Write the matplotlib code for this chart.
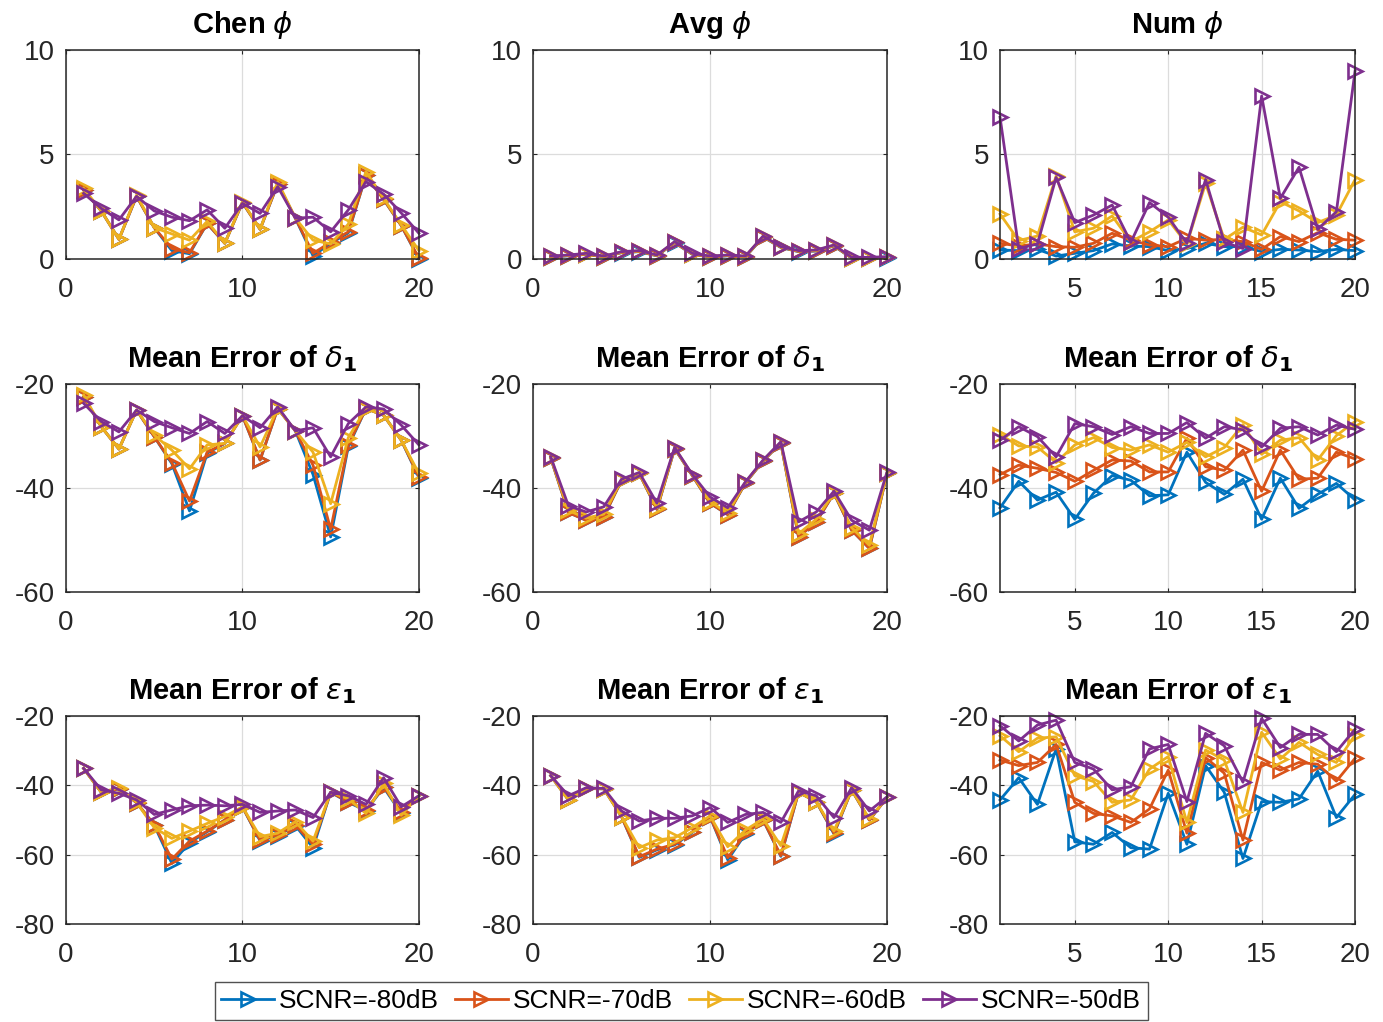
import matplotlib
matplotlib.use("Agg")
import matplotlib.pyplot as plt

plt.rcParams['font.family'] = ['Liberation Sans', 'DejaVu Sans']
plt.rcParams['mathtext.fontset'] = 'dejavusans'
plt.rcParams['axes.unicode_minus'] = False

x20 = list(range(1, 21))
labels = ['SCNR=-80dB', 'SCNR=-70dB', 'SCNR=-60dB', 'SCNR=-50dB']
colors = ['#0072BD', '#D95319', '#EDB120', '#7E2F8E']

# row 1: phi
chen_phi_80 = [3.3, 2.3, 0.94, 3.0, 1.5, 0.4, 0.25, 1.7, 0.75, 2.7, 1.42, 3.6, 1.95, 0.15, 0.75, 1.25, 4.0, 2.85, 1.6, 0.0]
chen_phi_70 = [3.3, 2.3, 0.94, 3.0, 1.5, 0.5, 0.3, 1.7, 0.75, 2.7, 1.42, 3.6, 1.95, 0.27, 0.8, 1.3, 4.0, 2.85, 1.6, 0.03]
chen_phi_60 = [3.38, 2.3, 0.94, 3.06, 1.5, 1.2, 0.9, 1.8, 0.75, 2.74, 1.42, 3.7, 1.95, 0.9, 0.72, 1.67, 4.18, 2.9, 1.63, 0.4]
chen_phi_50 = [3.14, 2.42, 1.87, 3.0, 2.3, 2.0, 1.83, 2.35, 1.47, 2.66, 2.18, 3.46, 1.95, 2.0, 1.3, 2.35, 3.7, 3.1, 2.2, 1.23]

avg_phi_80 = [0.1, 0.15, 0.22, 0.1, 0.3, 0.35, 0.15, 0.78, 0.22, 0.1, 0.15, 0.1, 1.05, 0.55, 0.35, 0.38, 0.62, 0.04, 0.04, 0.07]
avg_phi_70 = [0.11, 0.16, 0.23, 0.11, 0.31, 0.36, 0.16, 0.79, 0.23, 0.11, 0.16, 0.11, 1.06, 0.56, 0.36, 0.39, 0.63, 0.05, 0.05, 0.08]
avg_phi_60 = [0.12, 0.17, 0.25, 0.12, 0.33, 0.38, 0.17, 0.81, 0.25, 0.12, 0.17, 0.12, 1.08, 0.57, 0.38, 0.41, 0.65, 0.06, 0.06, 0.09]
avg_phi_50 = [0.14, 0.19, 0.27, 0.14, 0.35, 0.4, 0.19, 0.83, 0.27, 0.14, 0.19, 0.14, 1.1, 0.59, 0.4, 0.43, 0.67, 0.08, 0.08, 0.11]

num_phi_80 = [0.43, 0.4, 0.46, 0.14, 0.27, 0.4, 0.72, 0.62, 0.59, 0.4, 0.5, 0.75, 0.59, 0.59, 0.35, 0.46, 0.43, 0.35, 0.46, 0.4]
num_phi_70 = [0.75, 0.62, 0.72, 0.59, 0.56, 0.75, 1.23, 0.9, 0.67, 0.59, 0.99, 0.9, 0.94, 0.83, 0.46, 1.07, 0.83, 1.26, 0.94, 0.9]
num_phi_60 = [2.15, 0.88, 1.1, 3.97, 1.3, 1.47, 2.06, 0.83, 1.3, 1.87, 0.72, 3.62, 0.94, 1.52, 1.15, 2.74, 2.3, 1.74, 2.1, 3.8]
num_phi_50 = [6.78, 0.5, 0.72, 3.9, 1.74, 2.1, 2.58, 0.8, 2.7, 2.0, 0.75, 3.8, 0.8, 0.5, 7.8, 2.9, 4.39, 1.42, 2.26, 9.0]

# row 2: delta_1
chen_d1_80 = [-22.5, -28.2, -32.5, -25.0, -30.1, -35.3, -44.4, -33.3, -31.4, -26.1, -34.6, -24.7, -29.0, -37.4, -49.4, -32.0, -24.7, -26.0, -30.8, -38.0]
chen_d1_70 = [-22.5, -28.2, -32.5, -25.0, -30.1, -35.1, -42.5, -33.1, -31.4, -26.1, -34.6, -24.7, -29.0, -35.6, -47.9, -31.7, -24.7, -26.0, -30.8, -37.8]
chen_d1_60 = [-22.1, -28.2, -32.5, -25.0, -29.8, -32.7, -36.3, -31.7, -31.4, -26.1, -32.1, -24.7, -29.0, -33.1, -43.0, -30.3, -24.7, -26.0, -30.8, -37.2]
chen_d1_50 = [-23.7, -27.2, -29.2, -25.0, -27.2, -28.4, -29.5, -27.2, -29.5, -26.1, -28.4, -24.4, -29.0, -28.4, -34.0, -27.6, -24.4, -24.8, -27.9, -31.7]

avg_d1_80 = [-34.2, -44.7, -46.2, -45.5, -38.5, -37.2, -44.1, -32.4, -37.6, -42.9, -45.1, -39.0, -34.8, -31.3, -49.4, -46.5, -41.0, -48.1, -51.6, -37.2]
avg_d1_70 = [-34.2, -44.7, -46.2, -45.5, -38.5, -37.2, -44.1, -32.4, -37.6, -42.9, -45.1, -39.0, -34.8, -31.3, -49.4, -46.5, -41.0, -48.1, -51.6, -37.2]
avg_d1_60 = [-34.1, -44.3, -45.8, -45.0, -38.4, -37.1, -43.8, -32.3, -37.5, -42.6, -44.8, -38.9, -34.7, -31.2, -48.8, -46.0, -40.9, -47.6, -51.0, -37.1]
avg_d1_50 = [-34.0, -43.4, -44.6, -43.6, -38.3, -37.0, -42.9, -32.2, -37.4, -41.7, -43.8, -38.8, -34.6, -31.1, -46.5, -44.6, -40.6, -46.2, -48.1, -36.9]

num_d1_80 = [-43.8, -38.7, -42.3, -40.8, -46.0, -41.0, -37.6, -38.5, -41.5, -41.3, -33.1, -38.9, -41.2, -38.3, -46.0, -38.1, -43.9, -41.2, -39.1, -42.3]
num_d1_70 = [-37.4, -35.6, -36.2, -37.0, -38.7, -36.6, -34.6, -34.8, -36.9, -36.9, -30.4, -35.9, -36.6, -32.7, -40.6, -32.7, -38.3, -38.1, -33.1, -34.4]
num_d1_60 = [-29.7, -31.9, -32.1, -35.1, -31.7, -30.3, -32.2, -32.7, -31.7, -33.1, -31.2, -34.0, -32.2, -27.8, -33.5, -30.8, -30.3, -34.6, -29.9, -27.2]
num_d1_50 = [-30.8, -28.2, -30.1, -34.0, -27.6, -28.2, -29.7, -28.2, -29.5, -29.5, -27.4, -30.4, -28.2, -28.8, -32.1, -28.5, -28.2, -29.8, -27.9, -28.7]

# row 3: epsilon_1
chen_e1_80 = [-35.1, -42.0, -41.0, -45.0, -51.5, -62.5, -56.5, -53.4, -50.0, -46.2, -56.0, -54.5, -51.6, -58.0, -42.0, -44.9, -47.3, -40.6, -48.1, -43.0]
chen_e1_70 = [-35.1, -42.0, -41.0, -45.0, -51.3, -61.3, -56.1, -53.2, -50.0, -46.2, -55.8, -54.3, -51.4, -57.0, -42.0, -44.7, -47.1, -40.4, -47.6, -43.0]
chen_e1_60 = [-35.1, -42.0, -40.7, -44.9, -52.2, -55.3, -53.2, -51.0, -49.0, -46.2, -54.8, -53.8, -50.5, -56.1, -42.0, -43.9, -48.1, -39.4, -48.6, -43.0]
chen_e1_50 = [-35.1, -41.3, -42.3, -44.2, -48.4, -47.1, -45.9, -45.7, -45.9, -45.5, -47.8, -47.4, -47.1, -49.3, -42.0, -43.0, -45.5, -37.8, -46.2, -43.0]

avg_e1_80 = [-37.2, -44.2, -40.9, -41.0, -49.0, -60.8, -58.6, -57.2, -53.6, -49.0, -61.5, -54.0, -50.0, -60.5, -42.0, -44.7, -54.0, -41.3, -50.0, -43.5]
avg_e1_70 = [-37.2, -44.2, -40.9, -41.0, -49.0, -60.6, -58.4, -57.0, -53.4, -49.0, -60.9, -53.8, -50.0, -60.3, -42.0, -44.7, -53.8, -41.3, -50.0, -43.5]
avg_e1_60 = [-37.2, -44.2, -40.9, -41.0, -49.0, -58.0, -55.8, -55.1, -52.2, -48.8, -57.7, -52.9, -49.7, -57.4, -42.0, -44.7, -53.2, -41.3, -49.7, -43.5]
avg_e1_50 = [-37.2, -43.0, -40.7, -40.9, -47.4, -50.3, -49.5, -49.5, -48.8, -46.4, -50.7, -48.4, -47.8, -50.7, -41.6, -43.0, -49.3, -40.7, -47.4, -43.3]

num_e1_80 = [-44.2, -37.8, -45.5, -29.5, -56.3, -57.0, -53.6, -58.0, -58.4, -42.3, -57.0, -34.3, -42.0, -61.1, -44.7, -44.9, -43.9, -35.9, -49.3, -42.6]
num_e1_70 = [-32.7, -34.3, -33.4, -28.2, -44.9, -48.1, -48.8, -50.7, -46.8, -35.6, -53.8, -32.0, -36.5, -55.8, -33.4, -35.6, -33.4, -33.9, -38.8, -32.2]
num_e1_60 = [-25.7, -30.3, -26.4, -26.0, -37.2, -38.9, -44.9, -44.2, -35.3, -31.7, -50.7, -29.8, -32.7, -47.8, -24.7, -32.4, -27.6, -31.1, -33.4, -25.5]
num_e1_50 = [-22.8, -27.2, -22.6, -21.2, -33.4, -35.3, -41.3, -40.4, -29.5, -28.2, -44.7, -25.0, -28.6, -39.1, -20.7, -29.1, -25.3, -25.3, -30.3, -23.8]

d1 = r'Mean Error of $\delta_{\mathbf{1}}$'
e1 = r'Mean Error of $\varepsilon_{\mathbf{1}}$'
titles = [r'Chen $\phi$', r'Avg $\phi$', r'Num $\phi$', d1, d1, d1, e1, e1, e1]
panels = [
    [chen_phi_80, chen_phi_70, chen_phi_60, chen_phi_50],
    [avg_phi_80, avg_phi_70, avg_phi_60, avg_phi_50],
    [num_phi_80, num_phi_70, num_phi_60, num_phi_50],
    [chen_d1_80, chen_d1_70, chen_d1_60, chen_d1_50],
    [avg_d1_80, avg_d1_70, avg_d1_60, avg_d1_50],
    [num_d1_80, num_d1_70, num_d1_60, num_d1_50],
    [chen_e1_80, chen_e1_70, chen_e1_60, chen_e1_50],
    [avg_e1_80, avg_e1_70, avg_e1_60, avg_e1_50],
    [num_e1_80, num_e1_70, num_e1_60, num_e1_50],
]
ylims = [(0, 10), (-60, -20), (-80, -20)]
yticks = [[0, 5, 10], [-60, -40, -20], [-80, -60, -40, -20]]

fig = plt.figure(figsize=(13.83, 10.22), dpi=100)
lefts = [0.0477, 0.3854, 0.7231]
widths = [0.2552, 0.2560, 0.2567]
bottoms = [0.7466, 0.4207, 0.0959]
heights = [0.2045, 0.2035, 0.2035]

lines = None
for k in range(9):
    r, c = k // 3, k % 3
    ax = fig.add_axes([lefts[c], bottoms[r], widths[c], heights[r]])
    hs = []
    for s in range(4):
        h, = ax.plot(x20, panels[k][s], color=colors[s], lw=2.0, marker='>',
                     markersize=10, markerfacecolor='none', markeredgewidth=1.9,
                     label=labels[s], clip_on=False)
        hs.append(h)
    lines = hs
    ax.set_ylim(ylims[r])
    ax.set_yticks(yticks[r])
    if c == 2:
        ax.set_xlim(1, 20)
        ax.set_xticks([5, 10, 15, 20])
    else:
        ax.set_xlim(0, 20)
        ax.set_xticks([0, 10, 20])
    ax.grid(True, color='#dcdcdc', lw=0.9)
    ax.set_axisbelow(True)
    for sp in ax.spines.values():
        sp.set_color('#262626')
        sp.set_linewidth(1.1)
    ax.tick_params(direction='in', length=3, labelsize=20, colors='#262626',
                   top=True, right=True)
    ax.tick_params(axis='x', pad=13)
    ax.tick_params(axis='y', pad=8)
    ax.set_title(titles[k], fontsize=21, fontweight='bold', pad=12)

fig.legend(lines, labels, loc='center', bbox_to_anchor=(0.4925, 0.0205), ncol=4,
           fontsize=19, frameon=True, fancybox=False, edgecolor='#262626',
           handlelength=2.0, handletextpad=0.2, columnspacing=0.6,
           borderpad=0.25)

fig.savefig('out.png', dpi=100)
